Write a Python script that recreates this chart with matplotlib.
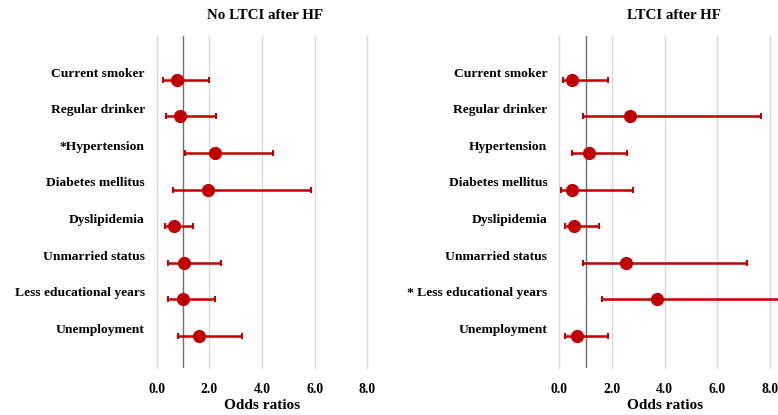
"""Forest plot of odds ratios: no LTCI vs LTCI after HF."""

import matplotlib

matplotlib.use("Agg")
import matplotlib.pyplot as plt  # noqa: E402

plt.rcParams["font.family"] = ["Liberation Serif", "DejaVu Serif"]

factors = ["Current smoker", "Regular drinker", "Hypertension", "Diabetes mellitus",
           "Dyslipidemia", "Unmarried status", "Less educational years", "Unemployment"]

left_labels = ["Current smoker", "Regular drinker", "*Hypertension", "Diabetes mellitus",
               "Dyslipidemia", "Unmarried status", "Less educational years", "Unemployment"]
left_or = [0.76, 0.88, 2.20, 1.94, 0.67, 1.02, 0.99, 1.62]
left_lo = [0.25, 0.34, 1.06, 0.63, 0.32, 0.42, 0.42, 0.82]
left_hi = [1.99, 2.25, 4.43, 5.86, 1.39, 2.43, 2.23, 3.24]

right_labels = ["Current smoker", "Regular drinker", "Hypertension", "Diabetes mellitus",
                "Dyslipidemia", "Unmarried status", "* Less educational years", "Unemployment"]
right_or = [0.49, 2.67, 1.12, 0.49, 0.57, 2.52, 3.70, 0.66]
right_lo = [0.13, 0.91, 0.47, 0.08, 0.20, 0.89, 1.61, 0.22]
right_hi = [1.86, 7.67, 2.57, 2.79, 1.52, 7.14, 8.60, 1.85]

xticks = [0, 2, 4, 6, 8]
RED = "#C00000"


def draw_panel(ax, title, labels, odds, lo, hi, title_x=0.5):
    ys = list(range(len(labels)))
    for gx in xticks:
        ax.axvline(gx, color="#d9d9d9", linewidth=1.0, zorder=0, clip_on=False)
    ax.axvline(1.0, color="#6f6f6f", linewidth=1.0, zorder=1)
    for y, o, l, h in zip(ys, odds, lo, hi):
        ax.errorbar(o, y, xerr=[[o - l], [h - o]], fmt="o", color=RED, ecolor=RED,
                    markersize=8.5, elinewidth=1.8, capsize=2, capthick=1.5,
                    zorder=3, clip_on=False)
    for y, lab in zip(ys, labels):
        ax.annotate(lab, xy=(0, y), xycoords=ax.get_yaxis_transform(),
                    xytext=(-8.5, 4.5), textcoords="offset points",
                    ha="right", va="center", fontsize=9.7, fontweight="bold")
    ax.set_xlim(0, 8)
    ax.set_ylim(len(labels) - 1 + 0.875, -1.2)
    ax.set_xticks(xticks)
    ax.set_xticklabels([f"{t:.1f}" for t in xticks], fontsize=9.8, fontweight="bold")
    ax.tick_params(axis="x", length=0, pad=11)
    ax.set_yticks([])
    for s in ax.spines.values():
        s.set_visible(False)
    ax.set_xlabel("Odds ratios", fontsize=11, fontweight="bold", labelpad=2)
    ax.set_title(title, fontsize=10.8, fontweight="bold", pad=12, x=title_x)


fig = plt.figure(figsize=(7.78, 4.15), dpi=100)
ax1 = fig.add_axes([0.2014, 0.1133, 0.2707, 0.80])
ax2 = fig.add_axes([0.7189, 0.1133, 0.2708, 0.80])

draw_panel(ax1, "No LTCI after HF", left_labels, left_or, left_lo, left_hi, title_x=0.514)
draw_panel(ax2, "LTCI after HF", right_labels, right_or, right_lo, right_hi, title_x=0.544)

fig.savefig("out.png", dpi=100)
plt.close(fig)
